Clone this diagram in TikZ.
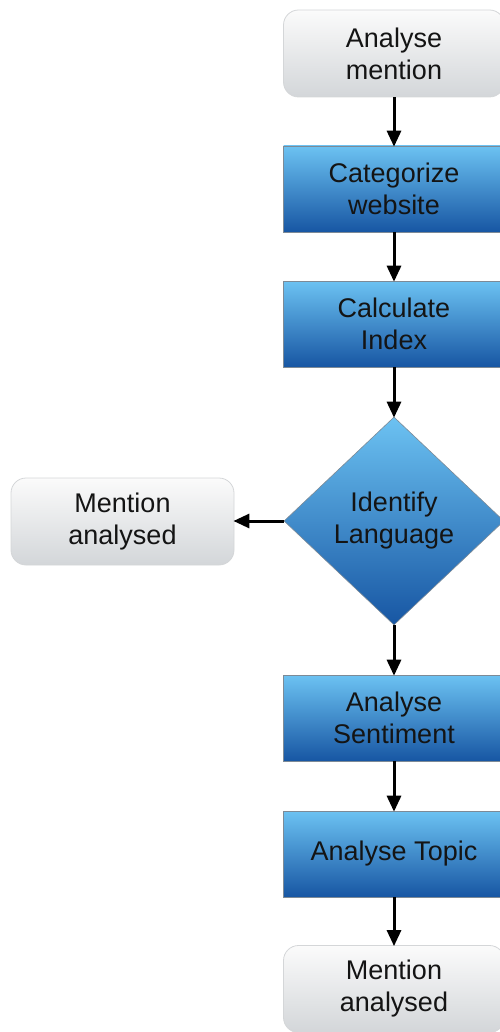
\documentclass[tikz,border=0pt]{standalone}
\usepackage{fontspec}
\setmainfont{Liberation Sans}
\usetikzlibrary{shapes.geometric,arrows.meta}
\definecolor{bluetop}{HTML}{6CC2F2}
\definecolor{bluebot}{HTML}{1756A3}
\definecolor{graytop}{HTML}{FBFBFB}
\definecolor{graybot}{HTML}{D3D6D9}
\definecolor{grayedge}{HTML}{D4D6D8}
\definecolor{blueedge}{HTML}{7D8A96}
\tikzset{
  txt/.style={font=\fontsize{27}{32}\selectfont, text=black!92, align=center},
  terminal/.style={txt, rectangle, rounded corners=15pt, draw=grayedge, line width=0.8pt,
    top color=graytop, bottom color=graybot, minimum width=221pt, minimum height=87pt, inner sep=0pt},
  process/.style={txt, rectangle, draw=blueedge, line width=0.6pt,
    top color=bluetop, bottom color=bluebot, minimum width=221pt, minimum height=86pt, inner sep=0pt},
  decision/.style={txt, diamond, aspect=1.06, draw=blueedge, line width=0.6pt,
    top color=bluetop, bottom color=bluebot, minimum width=220pt, minimum height=208pt, inner sep=0pt},
  flow/.style={line width=3pt, -{Triangle[length=16pt,width=14pt]}, shorten >=-1pt},
}
\begin{document}
\begin{tikzpicture}[x=1pt,y=1pt]
  \useasboundingbox (0,0) rectangle (499,-1032);
  \node[terminal] (start) at (394,-53.5) {Analyse\\mention};
  \node[process] (cat) at (394,-189) {Categorize\\website};
  \node[process] (calc) at (394,-324) {Calculate\\Index};
  \node[decision] (lang) at (394,-521) {Identify\\Language};
  \node[terminal, minimum width=223pt] (early) at (122.5,-521.5) {Mention\\analysed};
  \node[process] (sent) at (394,-718) {Analyse\\Sentiment};
  \node[process] (topic) at (394,-854) {Analyse Topic};
  \node[terminal] (done) at (394,-989) {Mention\\analysed};

  \draw[flow] (start) -- (cat);
  \draw[flow] (cat) -- (calc);
  \draw[flow] (calc) -- (lang);
  \draw[flow] (lang.west) -- (early.east |- lang.west);
  \draw[flow] (lang) -- (sent);
  \draw[flow] (sent) -- (topic);
  \draw[flow] (topic) -- (done);
\end{tikzpicture}
\end{document}
